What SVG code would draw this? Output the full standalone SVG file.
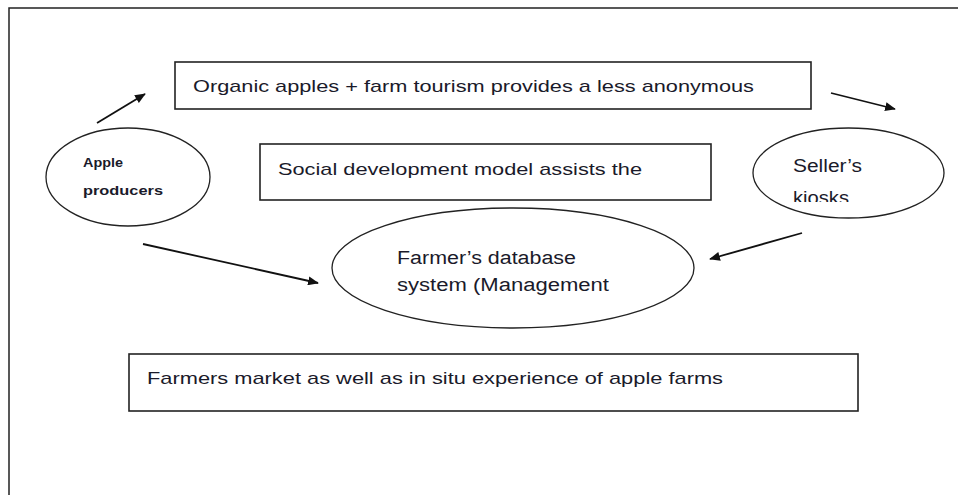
<svg xmlns="http://www.w3.org/2000/svg" width="958" height="495" viewBox="0 0 958 495">
<style>
.box{fill:#fff;stroke:#222;stroke-width:1.6}
.ell{fill:#fff;stroke:#222;stroke-width:1.3}
.t{font-family:"Liberation Sans",Arial,sans-serif;fill:#1a1a2a}
.conn{stroke:#111;stroke-width:1.8;fill:none;marker-end:url(#ah)}
</style>
<defs>
<marker id="ah" viewBox="0 0 12 10" refX="11" refY="5" markerWidth="11" markerHeight="9" markerUnits="userSpaceOnUse" orient="auto">
<path d="M0,0 L12,5 L0,10 z" fill="#111"/>
</marker>
<clipPath id="kclip"><rect x="780" y="150" width="120" height="52"/></clipPath>
</defs>
<rect width="958" height="495" fill="#fff"/>
<path d="M9,495 V8 H958" fill="none" stroke="#222" stroke-width="1.5"/>
<g id="connectors">
<line class="conn" x1="97" y1="123" x2="145" y2="94"/>
<line class="conn" x1="831" y1="93" x2="895" y2="109"/>
<line class="conn" x1="143" y1="244" x2="318" y2="283"/>
<line class="conn" x1="802" y1="233" x2="710" y2="259"/>
</g>
<g id="node-organic">
<rect class="box" x="175" y="62" width="636" height="47"/>
<text class="t" x="193" y="92" font-size="17" textLength="561" lengthAdjust="spacingAndGlyphs">Organic apples + farm tourism provides a less anonymous</text>
</g>
<g id="node-social">
<rect class="box" x="260" y="144" width="451" height="56"/>
<text class="t" x="278" y="175" font-size="17" textLength="364" lengthAdjust="spacingAndGlyphs">Social development model assists the</text>
</g>
<g id="node-apple">
<ellipse class="ell" cx="128" cy="177" rx="82" ry="49"/>
<text class="t" x="83" y="167" font-size="13" font-weight="bold" textLength="40" lengthAdjust="spacingAndGlyphs">Apple</text>
<text class="t" x="83" y="195" font-size="13" font-weight="bold" textLength="80" lengthAdjust="spacingAndGlyphs">producers</text>
</g>
<g id="node-seller">
<ellipse class="ell" cx="848.5" cy="173" rx="95.5" ry="45"/>
<text class="t" x="793" y="172" font-size="18" textLength="69" lengthAdjust="spacingAndGlyphs">Seller’s</text>
<text class="t" x="793" y="204" font-size="18" textLength="56" lengthAdjust="spacingAndGlyphs" clip-path="url(#kclip)">kiosks</text>
</g>
<g id="node-database">
<ellipse class="ell" cx="513" cy="268" rx="181" ry="60"/>
<text class="t" x="397" y="264" font-size="18" textLength="179" lengthAdjust="spacingAndGlyphs">Farmer’s database</text>
<text class="t" x="397" y="291" font-size="18" textLength="212" lengthAdjust="spacingAndGlyphs">system (Management</text>
</g>
<g id="node-farmers-market">
<rect class="box" x="129" y="354" width="729" height="57"/>
<text class="t" x="147" y="384" font-size="17" textLength="576" lengthAdjust="spacingAndGlyphs">Farmers market as well as in situ experience of apple farms</text>
</g>
</svg>
